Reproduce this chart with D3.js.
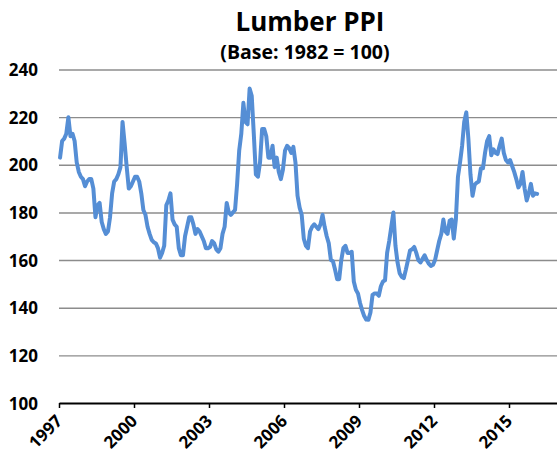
<!DOCTYPE html>
<html>
<head>
<meta charset="utf-8">
<script src="https://cdn.jsdelivr.net/npm/d3@7"></script>
<style>
  body { margin: 0; background: #fff; }
  svg { display: block; }
  text { font-family: "Open Sans", sans-serif; font-weight: bold; fill: #000; }
</style>
</head>
<body>
<svg></svg>
<script>
var width = 557;
var height = 463;

var margin = {
  left: 59,
  top: 69.5,
  right: 0,
  bottom: 60
};

// lumber PPI, monthly, one row per year starting Jan 1997 (base 1982 = 100)
var startYear = 1997;
var monthlyPPI = [
  203, 210, 211, 213, 220, 212, 213, 210, 201, 197, 195, 194,
  191, 193, 194, 194, 190, 178, 183, 184, 176, 173, 171, 172,
  178, 188, 193, 194, 196, 199, 218, 209, 199, 190, 191, 193,
  195, 195, 193, 188, 181, 179, 174, 171, 168.5, 167.5, 167, 165,
  161, 163, 166, 183, 185, 188, 177, 175, 174, 165, 162, 162,
  170, 174, 178, 178, 175, 171, 173, 172, 170, 168, 165, 165,
  165.5, 168, 167, 164.5, 163.5, 165, 171, 174, 184, 180, 179, 180,
  181, 192, 206, 213, 226, 218, 217, 232, 229, 213, 196, 195,
  201, 215, 215, 212, 203, 203, 208, 199, 203, 197, 194, 198,
  206, 208, 207, 205, 207.5, 201, 187, 182, 179, 169, 166, 165,
  172, 174, 175, 174, 173, 175, 179, 174, 170, 167, 160, 159.5,
  156, 152, 152, 160, 165, 166, 163, 163, 163.5, 151, 147.5, 146,
  142, 139, 136.5, 135, 134.9, 138, 145.4, 146, 146, 145, 149, 151,
  151.5, 163, 168, 174, 180, 166, 159, 154.5, 153, 152.4, 156, 160,
  164, 164.5, 165.5, 163, 160, 159, 160.5, 162, 160, 158.5, 157.5, 158,
  160, 164, 168, 171, 177, 172, 171, 176.5, 177, 169, 177, 195,
  201, 208, 218, 222, 211, 196, 187, 191.6, 192.5, 193, 198.5, 198.5,
  205, 210, 212, 204, 206.5, 205, 204.5, 208, 211, 205, 202, 201,
  202, 199.5, 197, 194, 190.5, 192, 197, 190, 185, 188, 192, 187,
  188, 187.8
];

var yTicks = [100, 120, 140, 160, 180, 200, 220, 240];
var xTickYears = [1997, 2000, 2003, 2006, 2009, 2012, 2015];

var titleText = "Lumber PPI";
var subtitleText = "(Base: 1982 = 100)";

var data = monthlyPPI.map(function(v, i) {
  return { t: startYear + (i + 0.5) / 12, value: v };
});

var svg = d3.select("svg")
  .attr("width", width)
  .attr("height", height);

var x = d3.scaleLinear()
  .domain([1997, 2017])
  .range([margin.left, margin.left + 500]);

var y = d3.scaleLinear()
  .domain([100, 240])
  .range([height - margin.bottom, margin.top]);

// y axis with gridlines
var yAxis = d3.axisLeft(y)
  .tickValues(yTicks)
  .tickSize(-(width - margin.left - margin.right))
  .tickPadding(21);

var yDraw = svg.append("g")
  .attr("class", "axis y")
  .attr("transform", "translate(" + margin.left + ",0)")
  .call(yAxis);

yDraw.select(".domain").remove();
yDraw.selectAll("line")
  .attr("stroke", "#8c8c8c")
  .attr("stroke-width", 1.4);
yDraw.selectAll(".tick").filter(function(d) { return d === 100; }).select("line").remove();
yDraw.selectAll("text")
  .attr("font-family", null)
  .style("font-size", "17px")
  .attr("dy", "0.36em");

// x axis
var xAxis = d3.axisBottom(x)
  .tickValues(xTickYears)
  .tickFormat(d3.format("d"))
  .tickSize(5)
  .tickSizeOuter(0);

var xDraw = svg.append("g")
  .attr("class", "axis x")
  .attr("transform", "translate(0," + y(100) + ")")
  .call(xAxis);

xDraw.select(".domain")
  .attr("stroke", "#000")
  .attr("stroke-width", 2);
xDraw.selectAll("line")
  .attr("stroke", "#000")
  .attr("stroke-width", 1.5);
xDraw.selectAll("text")
  .style("font-size", "17px")
  .attr("x", 0)
  .attr("y", 0)
  .attr("dy", 0)
  .attr("text-anchor", "end")
  .attr("transform", "translate(4,19) rotate(-45)");

// the series
var line = d3.line()
  .x(function(d) { return x(d.t); })
  .y(function(d) { return y(d.value); });

svg.append("path")
  .datum(data)
  .attr("d", line)
  .attr("fill", "none")
  .attr("stroke", "#558ed5")
  .attr("stroke-width", 4)
  .attr("stroke-linejoin", "round")
  .attr("stroke-linecap", "round");

// titles
svg.append("text")
  .attr("x", 310)
  .attr("y", 31)
  .attr("text-anchor", "middle")
  .style("font-size", "26px")
  .text(titleText);

svg.append("text")
  .attr("x", 305)
  .attr("y", 59)
  .attr("text-anchor", "middle")
  .style("font-size", "19.5px")
  .text(subtitleText);
</script>
</body>
</html>
